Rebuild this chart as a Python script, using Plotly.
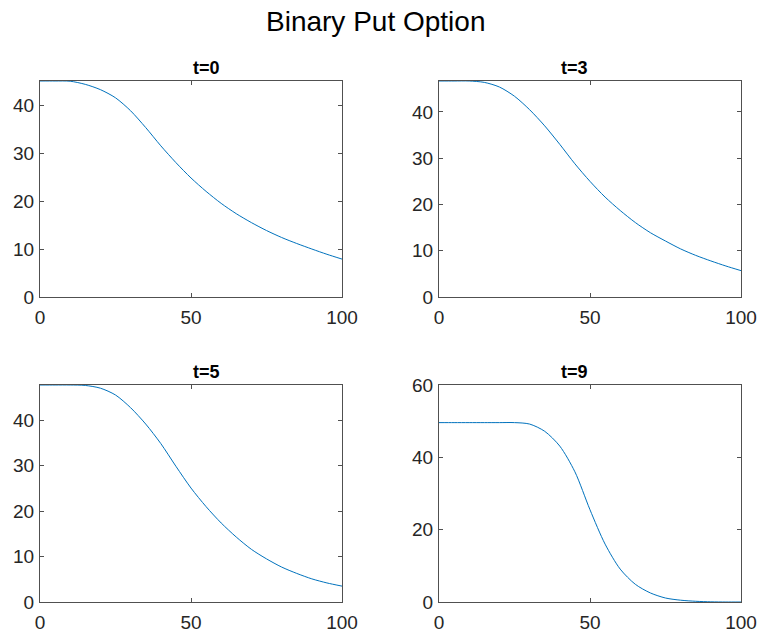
import plotly.graph_objects as go

# ---- data ----
asset_price = [0, 5, 10, 15, 20, 25, 30, 35, 40, 45, 50, 55, 60, 65, 70, 75, 80, 85, 90, 95, 100]
value_t0 = [45.0, 45.0, 44.95, 44.3, 43.2, 41.5, 38.8, 35.3, 31.5, 28.0, 24.8, 22.0, 19.5, 17.35, 15.5, 13.85, 12.4, 11.15, 10.0, 8.9, 7.9]
value_t3 = [46.7, 46.7, 46.7, 46.4, 45.4, 43.4, 40.5, 37.0, 33.0, 28.8, 25.0, 21.6, 18.7, 16.1, 13.9, 12.1, 10.4, 9.0, 7.8, 6.7, 5.7]
value_t5 = [47.8, 47.8, 47.8, 47.7, 47.1, 45.6, 42.8, 39.2, 34.9, 29.9, 25.1, 21.0, 17.4, 14.3, 11.6, 9.5, 7.7, 6.3, 5.1, 4.2, 3.5]
value_t9 = [49.6, 49.6, 49.6, 49.6, 49.6, 49.6, 49.2, 47.2, 43.1, 36.0, 25.5, 16.0, 9.1, 4.9, 2.5, 1.1, 0.5, 0.2, 0.05, 0.0, 0.0]

panel_titles = ["t=0", "t=3", "t=5", "t=9"]
series = [value_t0, value_t3, value_t5, value_t9]
y_ranges = [[0, 45.0], [0, 46.7], [0, 47.8], [0, 60]]
y_ticks = [[0, 10, 20, 30, 40], [0, 10, 20, 30, 40], [0, 10, 20, 30, 40], [0, 20, 40, 60]]
x_ticks = [0, 50, 100]

W, H = 761, 634
# pixel boxes: (left, right, top, bottom)
boxes = [(40, 342, 81, 297), (439, 741, 81, 297), (40, 342, 385, 602), (439, 741, 385, 602)]

fig = go.Figure()
axis_col = "#262626"
line_col = "#505050"

for i, (ys, box) in enumerate(zip(series, boxes)):
    n = "" if i == 0 else str(i + 1)
    l, r, t, b = box
    fig.add_trace(go.Scatter(
        x=asset_price, y=ys, mode="lines",
        line=dict(color="#0072BD", width=1, shape="spline", smoothing=0.8),
        xaxis="x" + n, yaxis="y" + n, showlegend=False, hoverinfo="x+y"))
    common = dict(showline=True, linecolor=line_col, linewidth=1, mirror="ticks",
                  ticks="inside", ticklen=4, tickcolor=line_col, showgrid=False, automargin=False,
                  zeroline=False, tickfont=dict(family="Arial, Liberation Sans", size=19, color=axis_col))
    fig.update_layout(**{
        "xaxis" + n: dict(domain=[l / W, r / W], range=[0, 100], tickvals=x_ticks,
                          anchor="y" + n, ticklabelstandoff=3, **common),
        "yaxis" + n: dict(domain=[1 - b / H, 1 - t / H], range=y_ranges[i], tickvals=y_ticks[i],
                          anchor="x" + n, ticklabelstandoff=1, **common),
    })
    fig.add_annotation(text="<b>" + panel_titles[i] + "</b>", x=(l + r) / 2 / W, y=1 - (t - 13) / H,
                       xref="paper", yref="paper", showarrow=False, yanchor="middle",
                       font=dict(family="Arial, Liberation Sans", size=18, color="#000000"))

fig.add_annotation(text="Binary Put Option", x=0.493, y=1 - 21 / H, xref="paper", yref="paper",
                   showarrow=False, yanchor="middle",
                   font=dict(family="Arial, Liberation Sans", size=28, color="#000000"))

fig.update_layout(width=W, height=H, autosize=False,
                  margin=dict(l=0, r=0, t=0, b=0, pad=0, autoexpand=False),
                  paper_bgcolor="white", plot_bgcolor="white")

fig.write_html("out.html", config={"responsive": False, "displayModeBar": False},
               post_script="document.body.style.margin='0';document.body.style.overflow='hidden';")
